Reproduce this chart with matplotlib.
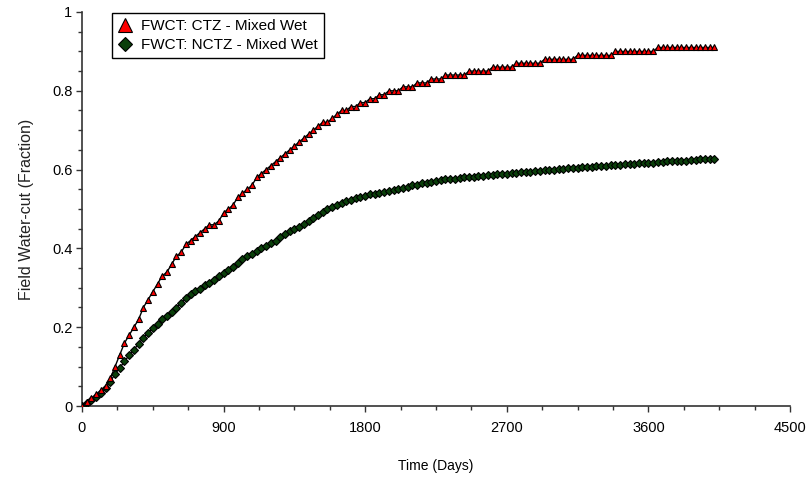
import matplotlib
matplotlib.use("Agg")
import matplotlib.pyplot as plt
from matplotlib.ticker import MultipleLocator, FixedLocator, FixedFormatter
from matplotlib.lines import Line2D

plt.rcParams['font.family'] = ['Liberation Sans', 'DejaVu Sans']

days = [0, 30, 60, 90, 120, 150, 180, 210, 240, 270, 300, 330, 360, 390, 420, 450, 480, 510, 540, 570,
        600, 630, 660, 690, 720, 750, 780, 810, 840, 870, 900, 930, 960, 990, 1020, 1050, 1080, 1110, 1140, 1170,
        1200, 1230, 1260, 1290, 1320, 1350, 1380, 1410, 1440, 1470, 1500, 1530, 1560, 1590, 1620, 1650, 1680, 1710, 1740, 1770,
        1800, 1830, 1860, 1890, 1920, 1950, 1980, 2010, 2040, 2070, 2100, 2130, 2160, 2190, 2220, 2250, 2280, 2310, 2340, 2370,
        2400, 2430, 2460, 2490, 2520, 2550, 2580, 2610, 2640, 2670, 2700, 2730, 2760, 2790, 2820, 2850, 2880, 2910, 2940, 2970,
        3000, 3030, 3060, 3090, 3120, 3150, 3180, 3210, 3240, 3270, 3300, 3330, 3360, 3390, 3420, 3450, 3480, 3510, 3540, 3570,
        3600, 3630, 3660, 3690, 3720, 3750, 3780, 3810, 3840, 3870, 3900, 3930, 3960, 3990, 4020]

fwct_ctz = [0.00, 0.01, 0.02, 0.03, 0.04, 0.05, 0.07, 0.10, 0.13, 0.16, 0.18, 0.20, 0.22, 0.25, 0.27, 0.29, 0.31, 0.33, 0.34, 0.36,
            0.38, 0.39, 0.41, 0.42, 0.43, 0.44, 0.45, 0.46, 0.46, 0.47, 0.49, 0.50, 0.51, 0.53, 0.54, 0.55, 0.56, 0.58, 0.59, 0.60,
            0.61, 0.62, 0.63, 0.64, 0.65, 0.66, 0.67, 0.68, 0.69, 0.70, 0.71, 0.72, 0.72, 0.73, 0.74, 0.75, 0.75, 0.76, 0.76, 0.77,
            0.77, 0.78, 0.78, 0.79, 0.79, 0.80, 0.80, 0.80, 0.81, 0.81, 0.81, 0.82, 0.82, 0.82, 0.83, 0.83, 0.83, 0.84, 0.84, 0.84,
            0.84, 0.84, 0.85, 0.85, 0.85, 0.85, 0.85, 0.86, 0.86, 0.86, 0.86, 0.86, 0.87, 0.87, 0.87, 0.87, 0.87, 0.87, 0.88, 0.88,
            0.88, 0.88, 0.88, 0.88, 0.88, 0.89, 0.89, 0.89, 0.89, 0.89, 0.89, 0.89, 0.89, 0.90, 0.90, 0.90, 0.90, 0.90, 0.90, 0.90,
            0.90, 0.90, 0.91, 0.91, 0.91, 0.91, 0.91, 0.91, 0.91, 0.91, 0.91, 0.91, 0.91, 0.91, 0.91]

fwct_nctz = [0.000, 0.008, 0.015, 0.022, 0.032, 0.045, 0.062, 0.081, 0.097, 0.113, 0.129, 0.143, 0.158, 0.173, 0.186, 0.197, 0.209, 0.220, 0.229, 0.239,
             0.250, 0.261, 0.273, 0.283, 0.291, 0.298, 0.306, 0.313, 0.321, 0.330, 0.337, 0.345, 0.354, 0.363, 0.372, 0.380, 0.387, 0.394, 0.401, 0.407,
             0.414, 0.420, 0.428, 0.436, 0.443, 0.449, 0.455, 0.462, 0.469, 0.477, 0.485, 0.492, 0.499, 0.505, 0.511, 0.516, 0.520, 0.524, 0.528, 0.531,
             0.534, 0.537, 0.539, 0.541, 0.543, 0.546, 0.549, 0.551, 0.554, 0.557, 0.560, 0.562, 0.565, 0.567, 0.569, 0.571, 0.573, 0.575, 0.576, 0.577,
             0.579, 0.580, 0.581, 0.582, 0.583, 0.585, 0.586, 0.587, 0.588, 0.589, 0.590, 0.591, 0.592, 0.593, 0.594, 0.595, 0.596, 0.597, 0.598, 0.599,
             0.600, 0.601, 0.602, 0.603, 0.604, 0.605, 0.606, 0.607, 0.607, 0.608, 0.609, 0.610, 0.611, 0.611, 0.612, 0.613, 0.614, 0.615, 0.616, 0.617,
             0.617, 0.618, 0.619, 0.620, 0.621, 0.621, 0.622, 0.623, 0.623, 0.624, 0.625, 0.626, 0.627, 0.627, 0.628]

labels = ["FWCT: CTZ - Mixed Wet", "FWCT: NCTZ - Mixed Wet"]
x_ticks = [0, 900, 1800, 2700, 3600, 4500]
y_ticks = [0, 0.2, 0.4, 0.6, 0.8, 1.0]
y_tick_labels = ["0", "0.2", "0.4", "0.6", "0.8", "1"]

fig = plt.figure(figsize=(8.07, 4.83), dpi=100)
ax = fig.add_axes([82/807, 1 - 406/483, 708/807, 394/483])

ax.plot(days, fwct_nctz, color='black', lw=1.0, marker='D', markersize=4.0,
        markerfacecolor='#0a3f0a', markeredgecolor='black', markeredgewidth=0.8, zorder=3)
ax.plot(days, fwct_ctz, color='black', lw=1.0, marker='^', markersize=5.0,
        markerfacecolor='#ff0000', markeredgecolor='black', markeredgewidth=0.8, zorder=4)

ax.set_xlim(0, 4500)
ax.set_ylim(0, 1)
ax.xaxis.set_major_locator(FixedLocator(x_ticks))
ax.xaxis.set_minor_locator(MultipleLocator(225))
ax.yaxis.set_major_locator(FixedLocator(y_ticks))
ax.yaxis.set_major_formatter(FixedFormatter(y_tick_labels))
ax.yaxis.set_minor_locator(MultipleLocator(0.05))

for side in ['top', 'right']:
    ax.spines[side].set_visible(False)
for side in ['left', 'bottom']:
    ax.spines[side].set_color('#333333')
    ax.spines[side].set_linewidth(1.2)

ax.tick_params(which='major', length=4, width=1, color='#333333', labelsize=10.5, pad=3)
ax.tick_params(which='minor', length=3, width=1, color='#333333')
ax.tick_params(axis='x', pad=7)

ax.set_xlabel("Time (Days)", fontsize=10, labelpad=17)
ax.set_ylabel("Field Water-cut (Fraction)", fontsize=11.5, labelpad=13, color='#222222')

handles = [
    Line2D([], [], linestyle='none', marker='^', markersize=10, markerfacecolor='#ff0000',
           markeredgecolor='black', markeredgewidth=0.8),
    Line2D([], [], linestyle='none', marker='D', markersize=7.5, markerfacecolor='#0a3f0a',
           markeredgecolor='black', markeredgewidth=0.8),
]
leg = ax.legend(handles, labels, loc='upper left', bbox_to_anchor=(0.042, 0.997),
                borderaxespad=0, fancybox=False, framealpha=1, edgecolor='black',
                fontsize=11, handlelength=1.0, handletextpad=0.5, borderpad=0.4, labelspacing=0.3)
leg.get_frame().set_linewidth(1.0)

fig.savefig("out.png", dpi=100)
